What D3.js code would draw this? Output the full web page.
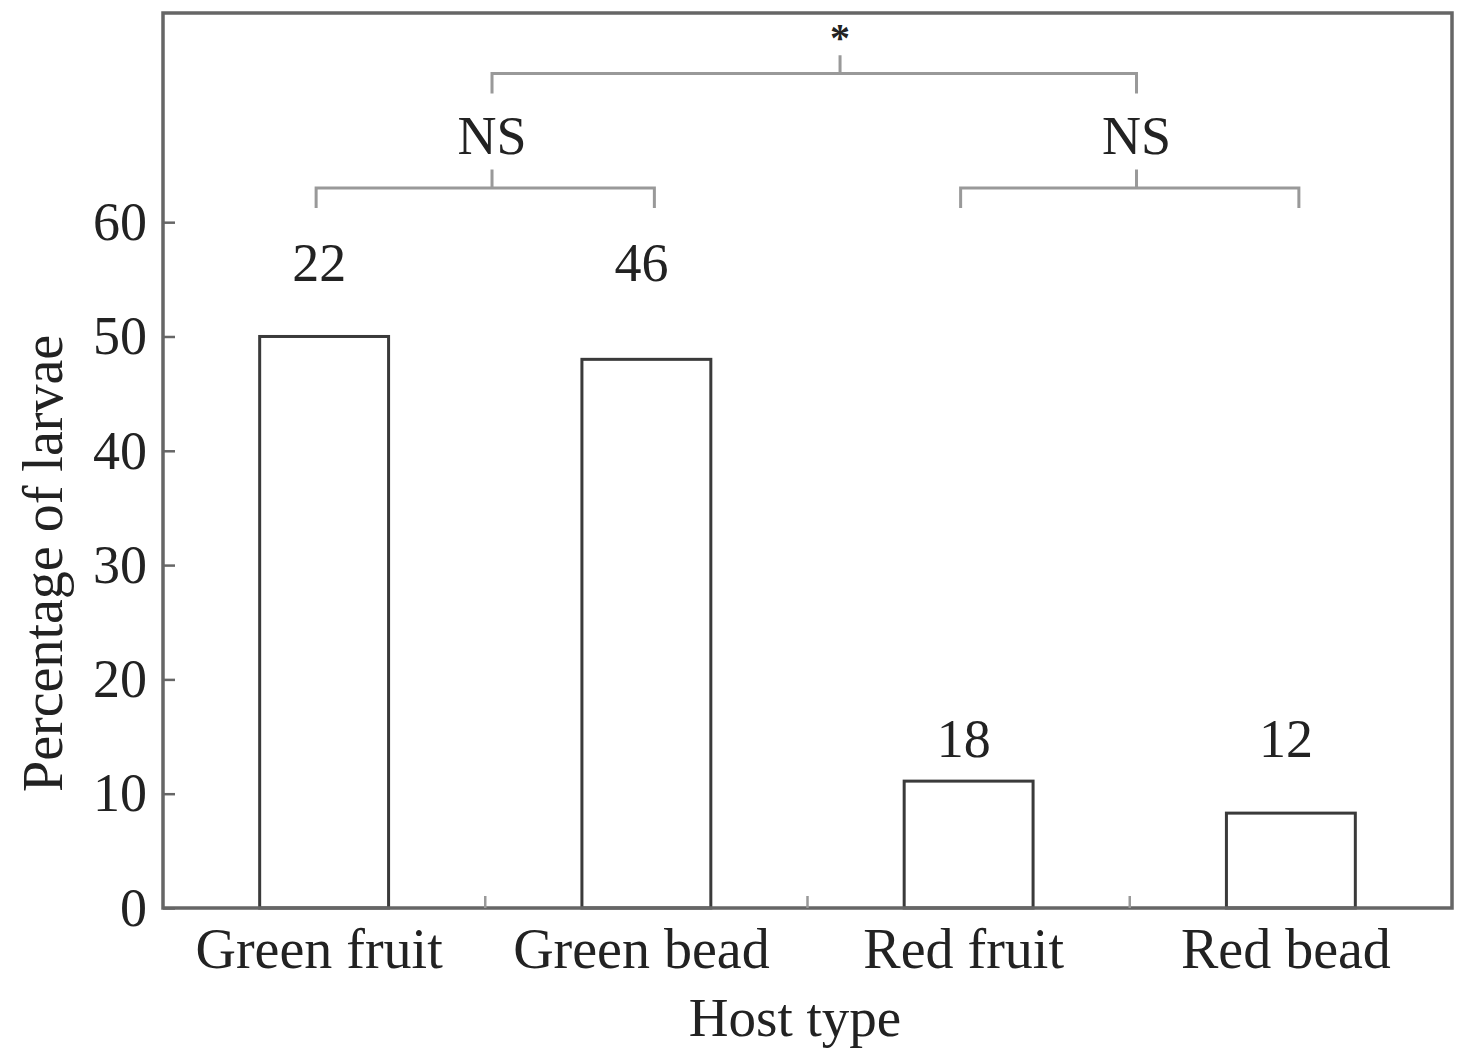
<!DOCTYPE html>
<html>
<head>
<meta charset="utf-8">
<script src="https://cdn.jsdelivr.net/npm/d3@7"></script>
<style>
  body { margin: 0; background: #fff; }
  svg text { font-family: "Liberation Serif", "DejaVu Serif", serif; fill: #222; }
</style>
</head>
<body>
<svg id="chart" width="1459" height="1054"></svg>
<script>
// data
var categories = ["Green fruit", "Green bead", "Red fruit", "Red bead"];
var percentages = [50, 48, 11.1, 8.3];
var sampleSizes = ["22", "46", "18", "12"];
var sampleLabelY = [56.5, 56.5, 14.9, 14.9];
var yTicks = [0, 10, 20, 30, 40, 50, 60];

// significance brackets: [from category, to category, level, label, where the stem sits]
var pairBrackets = [
  {a: 0, b: 1, level: 63, label: "NS", stem: 0.52},
  {a: 2, b: 3, level: 63, label: "NS", stem: 0.52}
];
var topBracket = {level: 73, label: "*", stem: 0.54};

var svg = d3.select("#chart");
var margin = {top: 13, right: 7, bottom: 146, left: 163};
var width = +svg.attr("width") - margin.left - margin.right;
var height = +svg.attr("height") - margin.top - margin.bottom;
var g = svg.append("g").attr("transform", "translate(" + margin.left + "," + margin.top + ")");

var x = d3.scaleBand()
    .domain(categories)
    .range([0, width])
    .paddingInner(0.6)
    .paddingOuter(0.3);

var y = d3.scaleLinear()
    .domain([0, 78.3])
    .range([height, 0]);

var cx = function(i) { return x(categories[i]) + x.bandwidth() / 2; };

// bars
g.selectAll(".bar")
  .data(percentages)
  .enter().append("rect")
    .attr("class", "bar")
    .attr("x", function(d, i) { return x(categories[i]); })
    .attr("y", function(d) { return y(d); })
    .attr("width", x.bandwidth())
    .attr("height", function(d) { return height - y(d); })
    .attr("fill", "#fff")
    .attr("stroke", "#3a3a3a")
    .attr("stroke-width", 3);

// sample sizes over bars
g.selectAll(".n")
  .data(sampleSizes)
  .enter().append("text")
    .attr("x", function(d, i) { return cx(i) - 5; })
    .attr("y", function(d, i) { return y(sampleLabelY[i]); })
    .attr("dy", "0.35em")
    .attr("text-anchor", "middle")
    .style("font-size", "54px")
    .text(function(d) { return d; });

// frame
g.append("rect")
  .attr("x", 0).attr("y", 0)
  .attr("width", width).attr("height", height)
  .attr("fill", "none")
  .attr("stroke", "#666")
  .attr("stroke-width", 3.5);

// y axis, ticks inward
var yAxis = g.append("g")
  .call(d3.axisLeft(y).tickValues(yTicks).tickSize(-12).tickPadding(16));
yAxis.select(".domain").remove();
yAxis.selectAll("line").attr("stroke", "#666").attr("stroke-width", 2.5);
yAxis.selectAll("text").style("font-size", "54px").attr("fill", "#222");

// x axis: labels, and small inward ticks between categories
var xAxis = g.append("g")
  .attr("transform", "translate(0," + height + ")")
  .call(d3.axisBottom(x).tickSize(0).tickPadding(20));
xAxis.select(".domain").remove();
xAxis.selectAll("text").style("font-size", "56px").attr("fill", "#222").attr("dx", "-5");

g.selectAll(".sep")
  .data(categories.slice(1))
  .enter().append("line")
    .attr("x1", function(d) { return x(d) - x.step() * x.paddingInner() / 2; })
    .attr("x2", function(d) { return x(d) - x.step() * x.paddingInner() / 2; })
    .attr("y1", height)
    .attr("y2", height - 12)
    .attr("stroke", "#999")
    .attr("stroke-width", 2.5);

// brackets
function bracket(x1, x2, level, label, stem, size) {
  var b = g.append("g").attr("class", "bracket");
  var sx = x1 + (x2 - x1) * stem;
  b.append("path")
    .attr("d", "M" + x1 + "," + y(level - 1.75) + "V" + y(level) + "H" + x2 + "V" + y(level - 1.75)
      + "M" + sx + "," + y(level) + "V" + y(level + 1.6))
    .attr("fill", "none")
    .attr("stroke", "#999")
    .attr("stroke-width", 3);
  var t = b.append("text")
    .attr("x", sx)
    .attr("text-anchor", "middle")
    .attr("dy", "0.35em")
    .style("font-size", size)
    .text(label);
  return {stem: sx, label: t};
}

var stems = pairBrackets.map(function(p) {
  var br = bracket(cx(p.a) - 8, cx(p.b) + 8, p.level, p.label, p.stem, "54px");
  br.label.attr("y", y(p.level + 4.6));
  return br.stem;
});

// top bracket joins the two NS groups
var topBr = bracket(stems[0], stems[1], topBracket.level, topBracket.label, topBracket.stem, "40px");
topBr.label.attr("y", y(topBracket.level + 3.2)).style("font-weight", "bold");

// axis titles
svg.append("text")
  .attr("transform", "translate(42," + (margin.top + height * 0.615) + ") rotate(-90)")
  .attr("dy", "0.35em")
  .attr("text-anchor", "middle")
  .style("font-size", "56px")
  .text("Percentage of larvae");

svg.append("text")
  .attr("x", 795)
  .attr("y", 1036)
  .attr("text-anchor", "middle")
  .style("font-size", "55px")
  .text("Host type");
</script>
</body>
</html>
